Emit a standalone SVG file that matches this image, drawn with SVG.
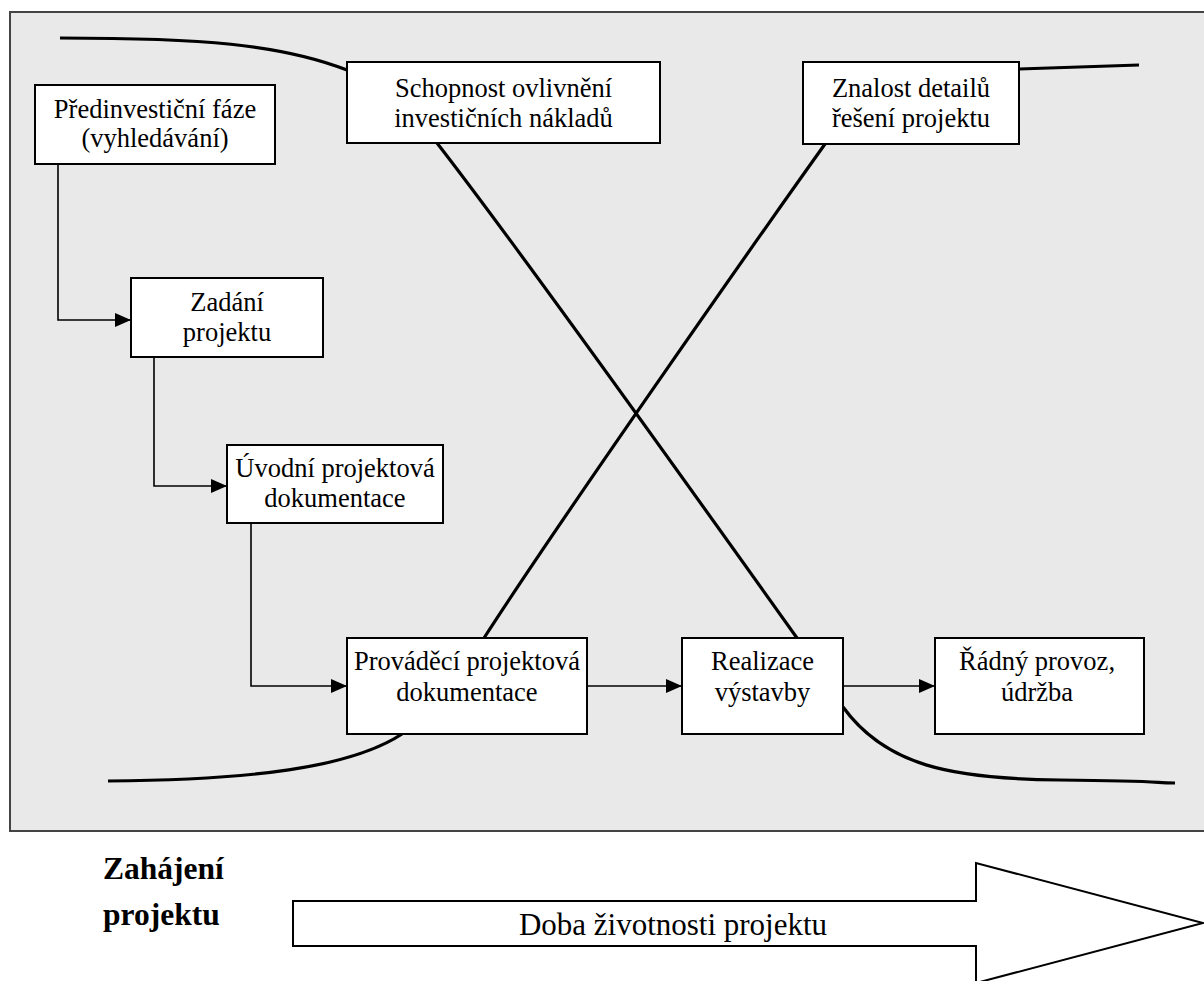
<svg xmlns="http://www.w3.org/2000/svg" width="1204" height="981" viewBox="0 0 1204 981">
<style>
.box{fill:#fff;stroke:#000;stroke-width:2}
.t{font-family:"Liberation Serif","Times New Roman",serif;font-size:26.5px;fill:#000;text-anchor:middle}
.b{font-family:"Liberation Serif","Times New Roman",serif;font-size:31.5px;font-weight:bold;fill:#000}
.d{font-family:"Liberation Serif","Times New Roman",serif;font-size:31px;fill:#000;text-anchor:middle}
.con{fill:none;stroke:#000;stroke-width:1.6}
.crv{fill:none;stroke:#000;stroke-width:3.2;stroke-linecap:butt}
</style>
<defs>
<marker id="ah" viewBox="0 0 16 14" refX="16" refY="7" markerWidth="16" markerHeight="14" markerUnits="userSpaceOnUse" orient="auto">
<path d="M0,0 L16,7 L0,14 Z" fill="#000"/>
</marker>
</defs>
<rect x="0" y="0" width="1204" height="981" fill="#fff"/>
<rect id="frame" x="10" y="12" width="1200" height="819" fill="#e9e9e9" stroke="#444" stroke-width="2"/>

<g id="curves">
<path class="crv" d="M60,38 C200,38 280,44 347,70"/>
<path class="crv" d="M1019,69 L1139,65"/>
<path class="crv" d="M437,143 C520,250 720,530 797,638"/>
<path class="crv" d="M825,144 C760,235 560,520 484,638"/>
<path class="crv" d="M108,781 C250,780 350,768 402,734"/>
<path class="crv" d="M843,707 C885,765 950,779 1060,780 S1150,783 1175,783"/>
</g>

<g id="connectors">
<path class="con" d="M58,164 L58,320 L131,320" marker-end="url(#ah)"/>
<path class="con" d="M154,357 L154,486 L227,486" marker-end="url(#ah)"/>
<path class="con" d="M251,523 L251,686 L347,686" marker-end="url(#ah)"/>
<path class="con" d="M587,686 L682,686" marker-end="url(#ah)"/>
<path class="con" d="M843,686 L935,686" marker-end="url(#ah)"/>
</g>

<g id="n-predinvesticni">
<rect class="box" x="35" y="85" width="240" height="79"/>
<text class="t" x="155" y="118">Předinvestiční fáze</text>
<text class="t" x="155" y="147">(vyhledávání)</text>
</g>
<g id="n-schopnost">
<rect class="box" x="347" y="62" width="313" height="81"/>
<text class="t" x="503.5" y="97">Schopnost ovlivnění</text>
<text class="t" x="503.5" y="127">investičních nákladů</text>
</g>
<g id="n-znalost">
<rect class="box" x="803" y="62" width="216" height="82"/>
<text class="t" x="911" y="97">Znalost detailů</text>
<text class="t" x="911" y="127">řešení projektu</text>
</g>
<g id="n-zadani">
<rect class="box" x="131" y="278" width="192" height="79"/>
<text class="t" x="227" y="311">Zadání</text>
<text class="t" x="227" y="341">projektu</text>
</g>
<g id="n-uvodni">
<rect class="box" x="227" y="445" width="216" height="78"/>
<text class="t" x="335" y="477">Úvodní projektová</text>
<text class="t" x="335" y="507">dokumentace</text>
</g>
<g id="n-provadeci">
<rect class="box" x="347" y="638" width="240" height="96"/>
<text class="t" x="467" y="670">Prováděcí projektová</text>
<text class="t" x="467" y="701">dokumentace</text>
</g>
<g id="n-realizace">
<rect class="box" x="682" y="638" width="161" height="96"/>
<text class="t" x="762.5" y="670">Realizace</text>
<text class="t" x="762.5" y="701">výstavby</text>
</g>
<g id="n-radny">
<rect class="box" x="935" y="638" width="209" height="96"/>
<text class="t" x="1037" y="670">Řádný provoz,</text>
<text class="t" x="1037" y="701">údržba</text>
</g>

<g id="timeline">
<text class="b" x="103" y="879">Zahájení</text>
<text class="b" x="103" y="925">projektu</text>
<path d="M293,901 L976,901 L976,863 L1203,923 L976,983 L976,946 L293,946 Z" fill="#fff" stroke="#000" stroke-width="2"/>
<text class="d" x="673" y="935">Doba životnosti projektu</text>
</g>
</svg>
